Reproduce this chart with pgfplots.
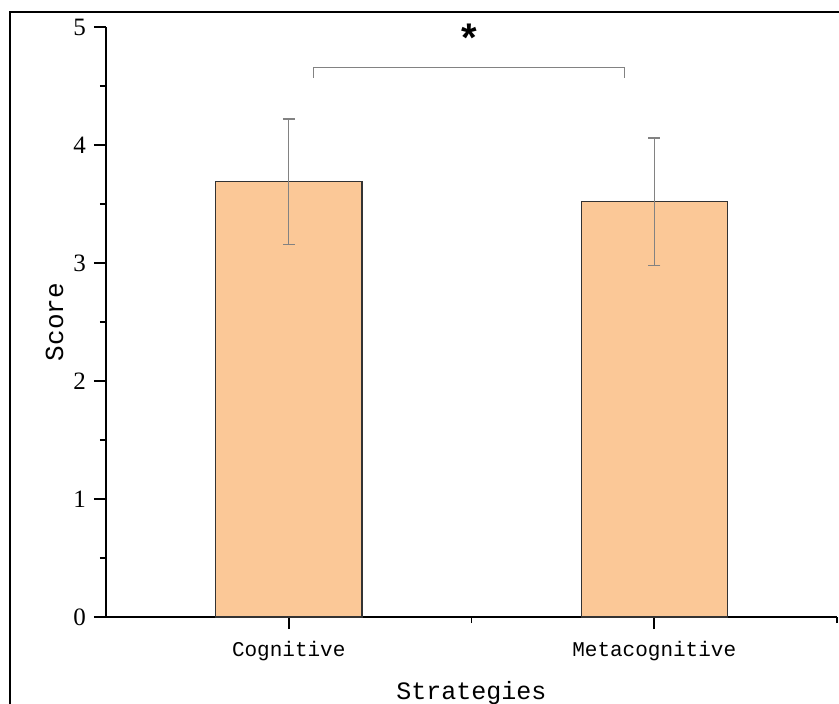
\documentclass[border=0pt]{standalone}
\usepackage{pgfplots}
\pgfplotsset{compat=1.18}
\usepackage{fontspec}
\setmainfont{Liberation Serif}
\newfontfamily\monofont{Liberation Mono}
\newfontfamily\sansfont{Liberation Sans}
\newcommand\ytl{\fontsize{25bp}{25bp}\selectfont}
\definecolor{barfill}{RGB}{251,200,151}
\definecolor{errgray}{RGB}{130,130,130}
\begin{document}
\begin{tikzpicture}
\useasboundingbox (-106bp,-87bp) rectangle (733bp,617bp);
\draw[line width=2bp] (-96bp,-100bp) -- (-96bp,605bp) -- (760bp,605bp);
\begin{axis}[
  at={(0,0)}, anchor=south west,
  scale only axis, width=731bp, height=590bp,
  xmin=0.5, xmax=2.5, ymin=0, ymax=5,
  axis lines*=left,
  axis line style={line width=1.8bp, black},
  xtick={1,2}, xticklabels={Cognitive,Metacognitive},
  minor xtick={1.5,2.5},
  ytick={0,1,2,3,4,5}, minor ytick={0.5,1.5,2.5,3.5,4.5},
  yticklabels={{\ytl 0},{\ytl 1},{\ytl 2},{\ytl 3},{\ytl 4},{\ytl 5}},
  tick align=outside,
  major tick length=12bp, minor tick length=6bp,
  tick style={black, line width=1.8bp},
  major tick style={black, line width=1.8bp},
  minor tick style={black, line width=1.8bp},
  yticklabel style={inner sep=3bp, xshift=-5bp},
  xticklabel style={font=\monofont\fontsize{21bp}{21bp}\selectfont, yshift=-9bp},
  xlabel={Strategies},
  xlabel style={font=\monofont\fontsize{25bp}{25bp}\selectfont, at={(axis description cs:0.5,-0.139)}, anchor=base},
  ylabel={Score},
  ylabel style={font=\monofont\fontsize{26bp}{26bp}\selectfont, at={(axis description cs:-0.0588,0.5)}, anchor=base},
  clip=false,
]
\addplot[ybar, bar width=0.4, fill=barfill, draw=black!80, line width=1.3bp,
  error bars/.cd, y dir=both, y explicit,
  error bar style={errgray, line width=1.2bp},
  error mark options={rotate=90, mark size=6bp, errgray, line width=1.2bp}]
  coordinates {(1,3.69) +- (0,0.53) (2,3.52) +- (0,0.54)};
\draw[errgray, line width=1.2bp] (axis cs:1.068,4.568) -- (axis cs:1.068,4.655) -- (axis cs:1.918,4.655) -- (axis cs:1.918,4.568);
\node at (axis cs:1.493,4.905) {\sansfont\bfseries\fontsize{40bp}{40bp}\selectfont *};
\end{axis}
\end{tikzpicture}
\end{document}
